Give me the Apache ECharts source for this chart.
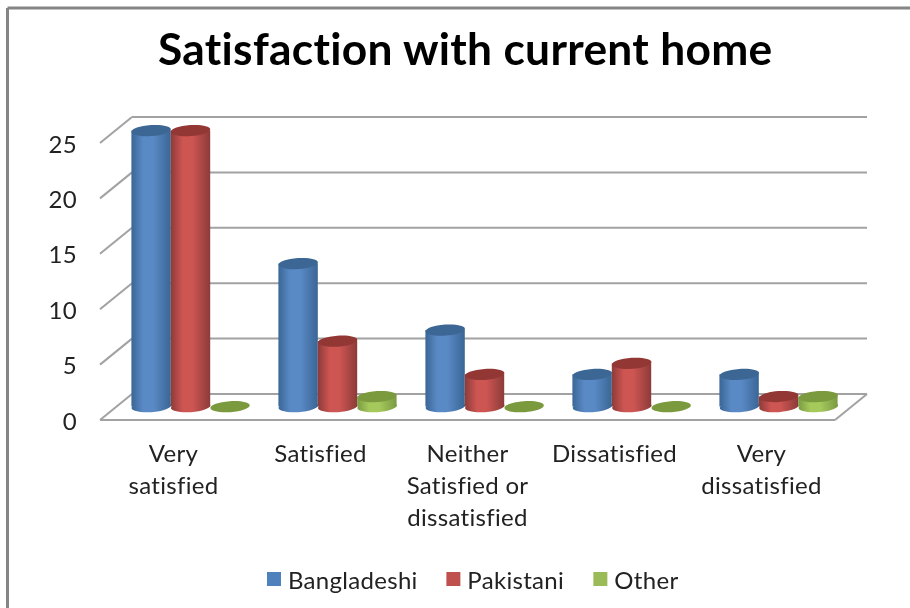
<!DOCTYPE html>
<html><head><meta charset="utf-8">
<style>html,body{margin:0;padding:0;background:#fff}
#c{width:910px;height:608px;filter:blur(0.5px)}
#c text{font-variant-ligatures:none;letter-spacing:0.3px}
</style>
<script src="https://cdn.jsdelivr.net/npm/echarts@6/dist/echarts.min.js"></script>
</head><body><div id="c"></div>
<script>
const categories = ['Very\nsatisfied','Satisfied','Neither\nSatisfied or\ndissatisfied','Dissatisfied','Very\ndissatisfied'];
const bangladeshi = [25,13,7,3,3];
const pakistani = [25,6,3,4,1];
const other = [0,1,0,0,1];
const yTicks = [0,5,10,15,20,25];
const FONT = 'Lato, "Open Sans", sans-serif';
const DX = 32, DY = -26, BARW = 39.4, RY = 5.5, TILT = 0.07;

function cylinder(idx, pal){
  return function(params, api){
    const i = api.value(0), v = api.value(1);
    const top = api.coord([i, v]), base = api.coord([i, 0]);
    const cx = base[0] + DX/2 + 1 + (idx-1)*BARW;
    const by = base[1] + DY/2 - 0.5, ty = top[1] + DY/2 + 0.5;
    const rx = BARW/2;
    const side = {type:'linear',x:0,y:0,x2:1,y2:0,colorStops:[
      {offset:0,color:pal[0]},{offset:0.3,color:pal[1]},{offset:0.55,color:pal[1]},{offset:1,color:pal[0]}]};
    const ell = (y, fill, z) => ({type:'ellipse',shape:{cx:cx,cy:y,rx:rx,ry:RY},
      originX:cx,originY:y,rotation:TILT,style:{fill:fill},z2:z});
    if (v === 0) return {type:'group',children:[ell(by, pal[2], 1)]};
    return {type:'group',children:[
      ell(by, side, 1),
      {type:'rect',shape:{x:cx-rx,y:ty,width:BARW,height:by-ty},style:{fill:side},z2:1},
      ell(ty, pal[2], 2)
    ]};
  };
}
const palettes = [
  ['#3a6696','#5a8ac6','#3c6794'],
  ['#8c3b39','#cd5552','#933735'],
  ['#7b9a42','#a6c95c','#7b9a3e']
];
const names = ['Bangladeshi','Pakistani','Other'];
const legendColors = ['#4f81bd','#c0504d','#9bbb59'];
const values = [bangladeshi, pakistani, other];

const GRID_COLOR = '#a2a2a2';
const wall = {
  type:'custom', silent:true, z:1, legendHoverLink:false,
  data: yTicks.map(t=>[0,t]), encode:{x:0,y:1},
  renderItem(params, api){
    const rect = params.coordSys;
    const p = api.coord([0, api.value(1)]);
    const y = p[1], xl = rect.x, xr = rect.x + rect.width;
    const ls = {stroke:GRID_COLOR,lineWidth:2,fill:null};
    const kids = [
      {type:'line',shape:{x1:xl,y1:y,x2:xl+DX,y2:y+DY},style:ls},
      {type:'line',shape:{x1:xl+DX,y1:y+DY,x2:xr+DX,y2:y+DY},style:ls}
    ];
    if (api.value(1) === 0) {
      kids.push({type:'line',shape:{x1:xl,y1:y,x2:xr,y2:y},style:ls});
      kids.push({type:'line',shape:{x1:xr,y1:y,x2:xr+DX,y2:y+DY},style:ls});
    }
    return {type:'group',children:kids};
  }
};

const option = {
  animation:false,
  backgroundColor:'#fff',
  title:{text:'Satisfaction with current home',top:25,left:158,padding:0,
    textStyle:{fontFamily:FONT,fontWeight:'bold',fontSize:44.3,color:'#000'}},
  legend:{data:names,left:267,top:567,padding:0,icon:'rect',itemWidth:14,itemHeight:14,itemGap:32,
    textStyle:{fontFamily:FONT,fontSize:24,color:'#222',padding:[0,0,0,2]},selectedMode:false},
  grid:{left:100,right:75,top:143,bottom:188},
  xAxis:{type:'category',data:categories,
    axisLine:{show:false},axisTick:{show:false},splitLine:{show:false},
    axisLabel:{interval:0,margin:16,fontFamily:FONT,fontSize:24,lineHeight:32,color:'#222'}},
  yAxis:{type:'value',min:0,max:25,interval:5,
    axisLine:{show:false},axisTick:{show:false},splitLine:{show:false},
    axisLabel:{margin:23,fontFamily:FONT,fontSize:24,color:'#222',padding:[0,0,6,0]}},
  graphic:[
    {type:'line',silent:true,shape:{x1:7.5,y1:8,x2:910,y2:8},style:{stroke:'#858585',lineWidth:3}},
    {type:'line',silent:true,shape:{x1:7.5,y1:8,x2:7.5,y2:608},style:{stroke:'#858585',lineWidth:3}}
  ],
  series:[wall].concat(names.map((n,k)=>({
    type:'custom',name:n,z:2+k,silent:true,
    itemStyle:{color:legendColors[k]},
    data:values[k].map((v,i)=>[i,v]),encode:{x:0,y:1},
    renderItem:cylinder(k,palettes[k])
  })))
};
echarts.init(document.getElementById('c'),null,{renderer:'svg'}).setOption(option);
</script></body></html>
